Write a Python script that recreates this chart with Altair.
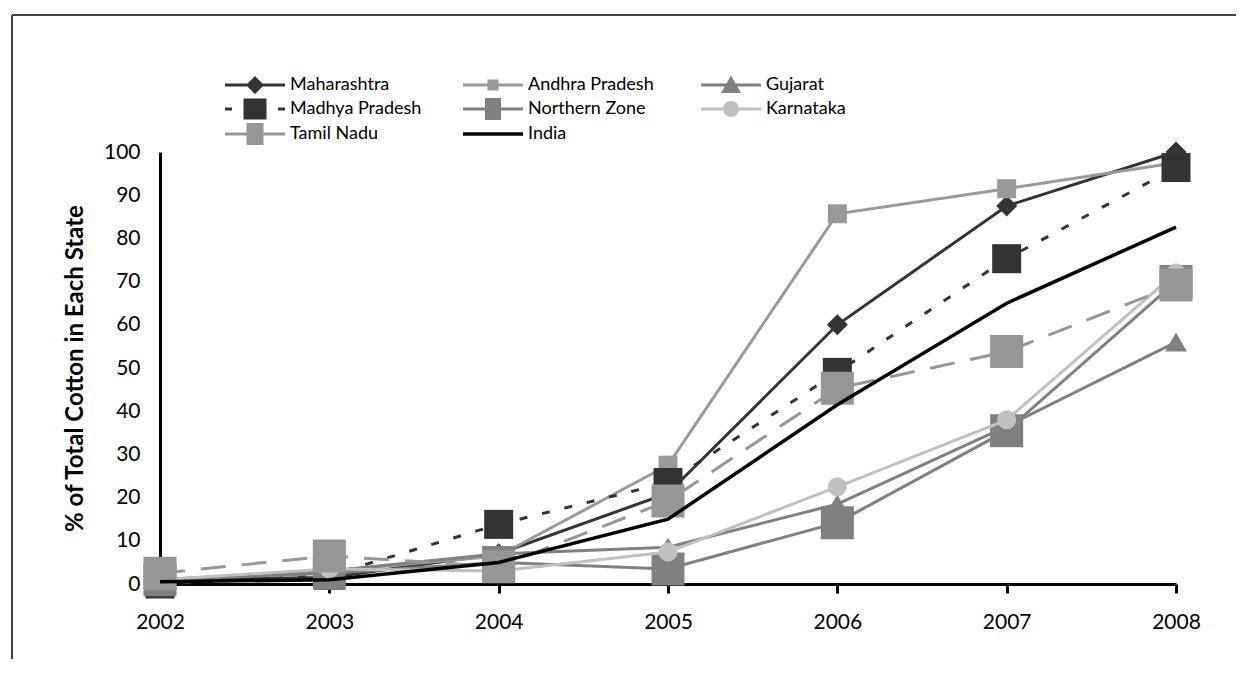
import altair as alt
import pandas as pd

# ---------------- data ----------------
years = [2002, 2003, 2004, 2005, 2006, 2007, 2008]
series_names = ["Maharashtra", "Andhra Pradesh", "Gujarat", "Madhya Pradesh",
                "Northern Zone", "Karnataka", "Tamil Nadu", "India"]
maharashtra = [1.0, 1.5, 7.0, 21.0, 60.0, 87.5, 100.0]
andhra_pradesh = [1.0, 3.0, 6.5, 27.5, 85.7, 91.5, 97.5]
gujarat = [1.0, 3.0, 7.0, 8.5, 18.5, 36.5, 56.0]
madhya_pradesh = [0.0, 2.0, 13.8, 23.5, 49.0, 75.3, 96.4]
northern_zone = [1.0, 2.5, 5.0, 3.5, 14.2, 35.5, 70.0]
karnataka = [1.0, 3.5, 3.0, 7.4, 22.5, 38.0, 72.0]
tamil_nadu = [2.5, 6.5, 4.0, 19.2, 45.3, 53.8, 69.2]
india = [0.5, 1.0, 5.0, 15.0, 41.5, 65.0, 82.6]
y_ticks = [0, 10, 20, 30, 40, 50, 60, 70, 80, 90, 100]

series_values = [maharashtra, andhra_pradesh, gujarat, madhya_pradesh,
                 northern_zone, karnataka, tamil_nadu, india]
rows = []
for name, vals in zip(series_names, series_values):
    for yr, v in zip(years, vals):
        rows.append({"series": name, "year": yr, "value": v})
df = pd.DataFrame(rows)

# ---------------- styles ----------------
FONT = "Lato"
styles = {
    "Maharashtra":    dict(color="#333333", dash=None,    shape="diamond",     size=441),
    "Andhra Pradesh": dict(color="#999999", dash=None,    shape="square",      size=361),
    "Gujarat":        dict(color="#808080", dash=None,    shape="triangle-up", size=480),
    "Madhya Pradesh": dict(color="#333333", dash=[8, 15], shape="square",      size=841),
    "Northern Zone":  dict(color="#808080", dash=None,    shape="square",      size=1089),
    "Karnataka":      dict(color="#c0c0c0", dash=None,    shape="circle",      size=361),
    "Tamil Nadu":     dict(color="#969696", dash=[25, 16], shape="square",     size=1089),
    "India":          dict(color="#000000", dash=None,    shape=None,          size=0),
}


def bar(x0, x1, h=0.15):
    return f"M {x0} {-h} H {x1} V {h} H {x0} Z"


def rect(w, h):
    return f"M {-w} {-h} H {w} V {h} H {-w} Z"


def diamond(d):
    return f"M 0 {-d} L {d} 0 L 0 {d} L {-d} 0 Z"


def tri(top, bot, half):
    return f"M 0 {-top} L {half} {bot} L {-half} {bot} Z"


def circ(r):
    return f"M {-r} 0 A {r} {r} 0 1 1 {r} 0 A {r} {r} 0 1 1 {-r} 0 Z"


legend_paths = [
    bar(-3, 3) + " " + diamond(0.9),
    bar(-3, 3) + " " + rect(0.55, 0.55),
    bar(-3, 3) + " " + tri(0.95, 0.8, 1.0),
    bar(-3, -2.3) + " " + rect(1.15, 1.05) + " " + bar(2.3, 3),
    bar(-3, 3) + " " + rect(0.8, 1.1),
    bar(-3, 3) + " " + circ(0.8),
    bar(-3, 3) + " " + rect(0.85, 1.1),
    bar(-3, 3, 0.18),
]
legend_colors = [styles[n]["color"] for n in series_names]

x_enc = alt.X("year:Q",
              scale=alt.Scale(domain=[2002, 2008], nice=False, zero=False),
              axis=alt.Axis(values=years, format="d", title=None, grid=False,
                            domainColor="black", domainWidth=3,
                            tickColor="black", tickWidth=3, tickSize=9,
                            labelFont=FONT, labelFontSize=21, labelColor="black",
                            labelPadding=18, labelFlush=False))
y_enc = alt.Y("value:Q",
              scale=alt.Scale(domain=[0, 100], nice=False),
              axis=alt.Axis(values=y_ticks, title="% of Total Cotton in Each State",
                            grid=False, domainColor="black", domainWidth=3,
                            ticks=False, tickSize=0,
                            labelFont=FONT, labelFontSize=21, labelColor="black",
                            labelPadding=20, labelFlush=False,
                            titleFont=FONT, titleFontSize=24, titleFontWeight="bold",
                            titleColor="black", titlePadding=16))

base = alt.Chart(df)
layers = []
first = True
for name in series_names:
    st = styles[name]
    line_kw = dict(color=st["color"], strokeWidth=3.5 if name == "India" else 3)
    if st["dash"]:
        line_kw["strokeDash"] = st["dash"]
    enc_x = x_enc if first else alt.X("year:Q")
    enc_y = y_enc if first else alt.Y("value:Q")
    first = False
    sub = base.transform_filter(alt.datum.series == name)
    layers.append(sub.mark_line(**line_kw).encode(x=enc_x, y=enc_y))
    if st["shape"]:
        layers.append(sub.mark_point(filled=True, shape=st["shape"], size=st["size"],
                                     color=st["color"], opacity=1, strokeWidth=0)
                      .encode(x="year:Q", y="value:Q"))

leg = alt.Legend(title=None, orient="none", legendX=85, legendY=-78,
                 direction="horizontal",
                 columns=3, gridAlign="all", columnPadding=41, rowPadding=3,
                 symbolSize=400, symbolStrokeWidth=0, symbolOpacity=1,
                 labelOffset=25, labelFont=FONT, labelFontSize=18,
                 labelColor="black", labelLimit=400, padding=0, offset=0)
legend_layer = base.transform_filter("false").mark_point(
    filled=True, size=400, opacity=1, strokeWidth=0).encode(
    color=alt.Color("series:N", scale=alt.Scale(domain=series_names, range=legend_colors),
                    legend=leg),
    shape=alt.Shape("series:N", scale=alt.Scale(domain=series_names, range=legend_paths),
                    legend=leg),
)
layers.append(legend_layer)

# frame around the figure (decoration)
frame_top = base.mark_rule(color="#444444", strokeWidth=2).encode(
    x=alt.value(-148), x2=alt.value(1200), y=alt.value(-137))
frame_left = base.mark_rule(color="#444444", strokeWidth=2).encode(
    x=alt.value(-148), y=alt.value(-137), y2=alt.value(700))
layers = [frame_top, frame_left] + layers

chart = alt.layer(*layers).properties(
    width=1016, height=432,
    autosize=alt.AutoSizeParams(type="none"),
    padding={"left": 152, "top": 144, "right": 60, "bottom": 75},
    background="white",
).configure_view(stroke=None)

chart.save("out.html", embed_options={"renderer": "svg", "actions": False})
